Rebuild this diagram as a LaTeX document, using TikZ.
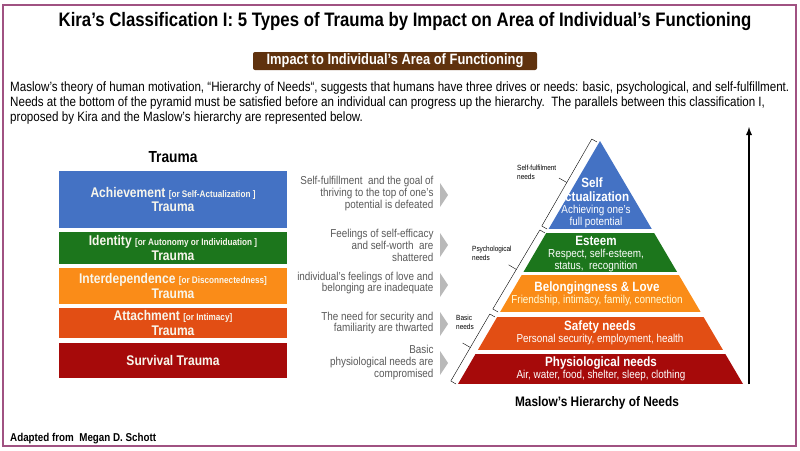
\documentclass[tikz,border=0pt]{standalone}
\usepackage{fontspec}
\setmainfont{Liberation Sans}[FakeStretch=0.86]
\usetikzlibrary{calc}

\definecolor{framecol}{RGB}{160,82,130}
\definecolor{bannercol}{RGB}{96,50,14}
\definecolor{achcol}{RGB}{68,114,196}
\definecolor{idcol}{RGB}{28,118,28}
\definecolor{intcol}{RGB}{250,140,24}
\definecolor{attcol}{RGB}{226,78,20}
\definecolor{survcol}{RGB}{166,10,10}
\definecolor{descgray}{RGB}{89,89,89}
\definecolor{chevgray}{RGB}{185,185,185}
\definecolor{paletext}{RGB}{248,246,236}

\begin{document}
\begin{tikzpicture}[x=1pt, y=-1pt, >=latex,
    tbox/.style={minimum width=228, inner sep=0, text=paletext, align=center,
        font=\fontsize{14}{14.5}\selectfont\bfseries},
    desc/.style={anchor=east, align=right, text=descgray,
        font=\fontsize{11.5}{11.8}\selectfont},
    ptitle/.style={text=white, align=center, inner sep=0,
        font=\fontsize{13.5}{14}\selectfont\bfseries},
    psub/.style={text=white, align=center, inner sep=0,
        font=\fontsize{11.5}{11.5}\selectfont},
    blabel/.style={anchor=west, align=left, inner sep=0,
        font=\fontsize{7.5}{9}\selectfont},
    brk/.style={thin, line join=round}]
\useasboundingbox (0,0) rectangle (800,450);
% frame
\draw[framecol, line width=1.6] (3,5) rectangle (796,446);
% title and banner
\node[font=\fontsize{19.5}{21}\selectfont\bfseries] (title) at (405,22)
    {Kira’s Classification I: 5 Types of Trauma by Impact on Area of Individual’s Functioning};
\node[fill=bannercol, text=white, rounded corners=2, minimum width=284, minimum height=18,
    inner sep=0, font=\fontsize{15}{16}\selectfont\bfseries] (banner) at (395,61)
    {Impact to Individual’s Area of Functioning};
\node[anchor=north west, align=left, inner sep=0, font=\fontsize{13.5}{15}\selectfont] (intro) at (10,82)
    {Maslow’s theory of human motivation, “Hierarchy of Needs“, suggests that humans have three drives or needs: basic, psychological, and self-fulfillment.\\
     Needs at the bottom of the pyramid must be satisfied before an individual can progress up the hierarchy.\ \ The parallels between this classification I,\\
     proposed by Kira and the Maslow’s hierarchy are represented below.};
% trauma column
\node[font=\fontsize{16}{18}\selectfont\bfseries] (trauma) at (173,157) {Trauma};
\node[tbox, fill=achcol, minimum height=57] (ach) at (173,199.5)
    {Achievement {\fontsize{9.5}{10}\selectfont[or Self-Actualization ]}\\Trauma};
\node[tbox, fill=idcol, minimum height=32] (ident) at (173,248)
    {Identity {\fontsize{9.5}{10}\selectfont[or Autonomy or Individuation ]}\\Trauma};
\node[tbox, fill=intcol, minimum height=36] (inter) at (173,286)
    {Interdependence {\fontsize{9.5}{10}\selectfont[or Disconnectedness]}\\Trauma};
\node[tbox, fill=attcol, minimum height=30] (attach) at (173,323)
    {Attachment {\fontsize{9.5}{10}\selectfont[or Intimacy]}\\Trauma};
\node[tbox, fill=survcol, minimum height=35] (surv) at (173,360.5) {Survival Trauma};
% descriptions
\node[desc] (d1) at (437,193.5) {Self-fulfillment\ \ and the goal of\\thriving to the top of one’s\\potential is defeated};
\node[desc] (d2) at (437,245.5) {Feelings of self-efficacy\\and self-worth\ \ are\\shattered};
\node[desc] (d3) at (437,283) {individual’s feelings of love and\\belonging are inadequate};
\node[desc] (d4) at (437,323) {The need for security and\\familiarity are thwarted};
\node[desc] (d5) at (437,362.5) {Basic\\physiological needs are\\compromised};
% chevrons
\foreach \y in {195,245,285,324,363}
    \fill[chevgray] (440,\y-12) -- (448,\y) -- (440,\y+12) -- cycle;
% pyramid
\begin{scope}
    \clip (600,141) -- (743,384) -- (458,384) -- cycle;
    \fill[achcol] (440,130) rectangle (760,229);
    \fill[idcol] (440,233) rectangle (760,272);
    \fill[intcol] (440,275) rectangle (760,312);
    \fill[attcol] (440,317) rectangle (760,350);
    \fill[survcol] (440,354) rectangle (760,384);
\end{scope}
\node[ptitle] (selft) at (592,190) {Self\\-actualization};
\node[psub] (selfs) at (596,216.5) {Achieving one’s\\full potential};
\node[ptitle] (estt) at (596,241) {Esteem};
\node[psub] (ests) at (596,260.5) {Respect, self-esteem,\\status,\ \ recognition};
\node[ptitle] (belt) at (597,288) {Belongingness \& Love};
\node[psub, text=white!85!yellow] (bels) at (597,301) {Friendship, intimacy, family, connection};
\node[ptitle] (saft) at (600,327) {Safety needs};
\node[psub] (safs) at (600,340) {Personal security, employment, health};
\node[ptitle] (phyt) at (601,363) {Physiological needs};
\node[psub] (phys) at (601,376) {Air, water, food, shelter, sleep, clothing};
\node[font=\fontsize{13.8}{15}\selectfont\bfseries] (maslow) at (597,403) {Maslow’s Hierarchy of Needs};
% brackets along the left edge
\coordinate (s1) at (547,229);
\coordinate (s2) at (597,142);
\coordinate (p1) at (498,312);
\coordinate (p2) at (545,233);
\coordinate (b1) at (456,384);
\coordinate (b2) at (495,317);
\foreach \a/\b in {s1/s2, p1/p2, b1/b2} {
    \draw[brk] (\a) -- ($(\a)!6pt!90:(\b)$) -- ($(\b)!6pt!-90:(\a)$) -- (\b);
    \coordinate (m) at ($(\a)!0.5!(\b)$);
    \draw[brk] ($(m)!6pt!90:(\b)$) -- ($(m)!15pt!90:(\b)$);
}
\node[blabel] (sflab) at (517,172) {Self-fulfilment\\needs};
\node[blabel] (pslab) at (472,253) {Psychological\\needs};
\node[blabel] (bslab) at (456,322) {Basic\\needs};
% upward arrow
\coordinate (arrbot) at (749,384);
\coordinate (arrtop) at (749,127);
\draw[->, line width=1.8] (arrbot) -- (arrtop);
% source
\node[anchor=west, inner sep=0, font=\fontsize{11.4}{13}\selectfont\bfseries] (source) at (10,439)
    {Adapted from\ \ Megan D. Schott};
\end{tikzpicture}
\end{document}
